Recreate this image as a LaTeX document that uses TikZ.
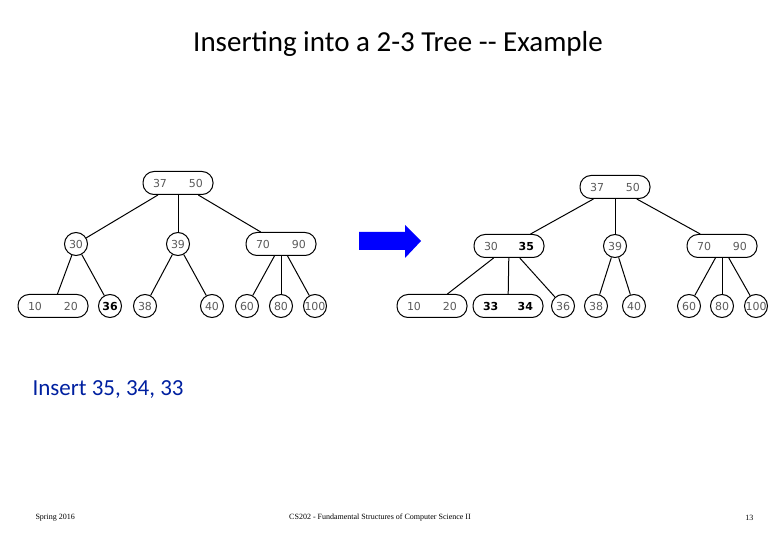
\documentclass[tikz,border=0pt]{standalone}
\usepackage{fontspec}
\setmainfont{Carlito}
\newfontfamily\keyfont{DejaVu Sans}
\newfontfamily\footfont{Liberation Serif}
\usetikzlibrary{positioning}
\definecolor{keygray}{RGB}{90,90,90}
\definecolor{insblue}{RGB}{0,32,160}
\newcommand{\pairkeys}[2]{\makebox[50pt]{#1\hfill #2}}
\tikzset{
  keynode/.style={draw,circle,line width=1pt,inner sep=0pt,minimum size=23pt,font=\keyfont\fontsize{11}{11}\selectfont,text=keygray},
  pairnode/.style={draw,rectangle,rounded corners=11pt,line width=1pt,inner sep=0pt,minimum width=70pt,minimum height=23pt,font=\keyfont\fontsize{11}{11}\selectfont,text=keygray},
  link/.style={line width=1pt}
}
\begin{document}
\begin{tikzpicture}[x=1pt,y=-1pt]
  \useasboundingbox (0,0) rectangle (780,540);
  \node at (398,44) {\fontsize{29}{29}\selectfont Inserting into a 2-3 Tree -{}- Example};
  % tree before
  \node[pairnode] (lroot) at (178,183) {\pairkeys{37}{50}};
  \node[keynode] (l30) at (76,244) {30};
  \node[keynode] (l39) at (178,244) {39};
  \node[pairnode] (l7090) at (281,244) {\pairkeys{70}{90}};
  \node[pairnode] (l1020) at (53,306) {\pairkeys{10}{20}};
  \node[keynode] (l36) at (110,306) {\textcolor{black}{\bfseries 36}};
  \node[keynode] (l38) at (145,306) {38};
  \node[keynode] (l40) at (212,306) {40};
  \node[keynode] (l60) at (247,306) {60};
  \node[keynode] (l80) at (281,306) {80};
  \node[keynode] (l100) at (315,306) {100};
  \draw[link] (lroot) -- (l30);
  \draw[link] (lroot) -- (l39);
  \draw[link] (lroot) -- (l7090);
  \draw[link] (l30) -- (l1020);
  \draw[link] (l30) -- (l36);
  \draw[link] (l39) -- (l38);
  \draw[link] (l39) -- (l40);
  \draw[link] (l7090) -- (l60);
  \draw[link] (l7090) -- (l80);
  \draw[link] (l7090) -- (l100);
  % arrow
  \fill[blue] (359,232) -- (405,232) -- (405,225) -- (421,241) -- (405,258) -- (405,250) -- (359,250) -- cycle;
  % tree after
  \node[pairnode] (rroot) at (615,187) {\pairkeys{37}{50}};
  \node[pairnode] (r3035) at (509,246) {\pairkeys{30}{\textcolor{black}{\bfseries 35}}};
  \node[keynode] (r39) at (615,246) {39};
  \node[pairnode] (r7090) at (722,246) {\pairkeys{70}{90}};
  \node[pairnode] (r1020) at (432,306) {\pairkeys{10}{20}};
  \node[pairnode] (r3334) at (508,306) {\pairkeys{\textcolor{black}{\bfseries 33}}{\textcolor{black}{\bfseries 34}}};
  \node[keynode] (r36) at (563,306) {36};
  \node[keynode] (r38) at (596,306) {38};
  \node[keynode] (r40) at (634,306) {40};
  \node[keynode] (r60) at (689,306) {60};
  \node[keynode] (r80) at (722,306) {80};
  \node[keynode] (r100) at (756,306) {100};
  \draw[link] (rroot) -- (r3035);
  \draw[link] (rroot) -- (r39);
  \draw[link] (rroot) -- (r7090);
  \draw[link] (r3035) -- (r1020);
  \draw[link] (r3035) -- (r3334);
  \draw[link] (r3035) -- (r36);
  \draw[link] (r39) -- (r38);
  \draw[link] (r39) -- (r40);
  \draw[link] (r7090) -- (r60);
  \draw[link] (r7090) -- (r80);
  \draw[link] (r7090) -- (r100);
  % text
  \node[anchor=west,text=insblue] at (29,390) {\fontsize{23}{23}\selectfont Insert 35, 34, 33};
  \node[anchor=west] at (32,518) {\footfont\fontsize{8}{8}\selectfont Spring 2016};
  \node at (380,518) {\footfont\fontsize{8}{8}\selectfont CS202 - Fundamental Structures of Computer Science II};
  \node[anchor=east] at (757,518) {\footfont\fontsize{8}{8}\selectfont 13};
\end{tikzpicture}
\end{document}
